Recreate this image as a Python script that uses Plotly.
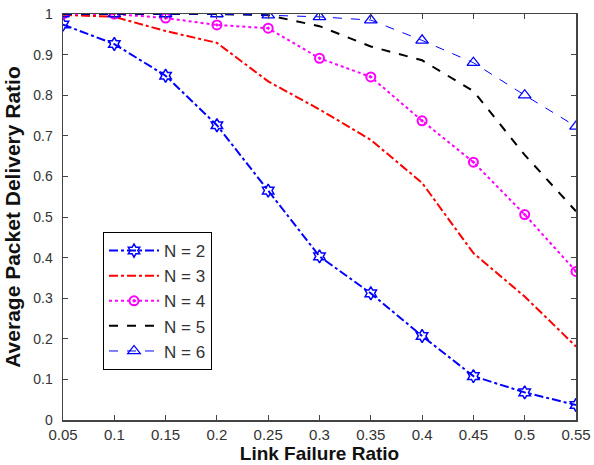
import plotly.graph_objects as go

x = [0.05, 0.10, 0.15, 0.20, 0.25, 0.30, 0.35, 0.40, 0.45, 0.50, 0.55]
n2 = [0.974, 0.926, 0.848, 0.726, 0.565, 0.403, 0.312, 0.207, 0.108, 0.068, 0.037]
n3 = [0.998, 0.993, 0.958, 0.929, 0.834, 0.765, 0.690, 0.584, 0.411, 0.304, 0.181]
n4 = [1.0, 1.0, 0.990, 0.973, 0.965, 0.891, 0.845, 0.737, 0.635, 0.506, 0.366]
n5 = [1.0, 1.0, 1.0, 1.0, 0.997, 0.970, 0.920, 0.886, 0.810, 0.653, 0.514]
n6 = [1.0, 1.0, 1.0, 1.0, 0.997, 0.993, 0.985, 0.935, 0.880, 0.800, 0.723]
names = ["N = 2", "N = 3", "N = 4", "N = 5", "N = 6"]
xticks = ["0.05", "0.1", "0.15", "0.2", "0.25", "0.3", "0.35", "0.4", "0.45", "0.5", "0.55"]
yvals = [0, 0.1, 0.2, 0.3, 0.4, 0.5, 0.6, 0.7, 0.8, 0.9, 1]
yticks = ["0", "0.1", "0.2", "0.3", "0.4", "0.5", "0.6", "0.7", "0.8", "0.9", "1"]

FONT = "Liberation Sans, Arial, sans-serif"

fig = go.Figure()
fig.add_trace(go.Scatter(x=x, y=n2, name=names[0], mode="lines+markers",
                         line=dict(color="#0000ff", width=2, dash="dashdot"),
                         marker=dict(symbol="hexagram-open", size=10, color="#0000ff",
                                     line=dict(width=1.5, color="#0000ff"))))
fig.add_trace(go.Scatter(x=x, y=n3, name=names[1], mode="lines",
                         line=dict(color="#ff0000", width=2, dash="dashdot")))
fig.add_trace(go.Scatter(x=x, y=n4, name=names[2], mode="lines+markers",
                         line=dict(color="#ff00ff", width=2, dash="dot"),
                         marker=dict(symbol="circle-open-dot", size=9, color="#ff00ff",
                                     line=dict(width=2, color="#ff00ff"))))
fig.add_trace(go.Scatter(x=x, y=n5, name=names[3], mode="lines",
                         line=dict(color="#000000", width=2, dash="dash")))
fig.add_trace(go.Scatter(x=x, y=n6, name=names[4], mode="lines+markers",
                         line=dict(color="#0000ff", width=1, dash="dash"),
                         marker=dict(symbol="triangle-up-open", size=11, color="#0000ff",
                                     line=dict(width=1.3, color="#0000ff"))))

axis_common = dict(showgrid=False, zeroline=False, showline=True, mirror="ticks",
                   linecolor="#444444", linewidth=1.5, ticks="inside", ticklen=5,
                   tickcolor="#444444")

fig.update_xaxes(range=[0.05, 0.55], tickvals=x, ticktext=xticks,
                 tickfont=dict(family=FONT, size=15, color="#333333"),
                 title=dict(text="<b>Link Failure Ratio</b>",
                            font=dict(family=FONT, size=19, color="#111111"), standoff=5),
                 **axis_common)
fig.update_yaxes(range=[0, 1], tickvals=yvals, ticktext=yticks,
                 tickfont=dict(family=FONT, size=14, color="#333333"),
                 ticklabelstandoff=6,
                 title=dict(text="<b>Average Packet Delivery Ratio</b>",
                            font=dict(family=FONT, size=21, color="#111111"), standoff=7),
                 **axis_common)

fig.update_layout(
    width=594, height=465,
    margin=dict(l=63, r=18, t=14, b=45, autoexpand=False),
    plot_bgcolor="white", paper_bgcolor="white",
    legend=dict(x=0.078, y=0.463, xanchor="left", yanchor="top",
                bgcolor="white", bordercolor="#000000", borderwidth=1,
                font=dict(family=FONT, size=17, color="#333333"),
                itemwidth=50, tracegroupgap=0),
)

fig.write_html("out.html", config={"displayModeBar": False, "staticPlot": True})
with open("out.html", "r", encoding="utf-8") as f:
    html = f.read()
html = html.replace("<body>", '<body style="margin:0;padding:0;overflow:hidden">', 1)
with open("out.html", "w", encoding="utf-8") as f:
    f.write(html)
